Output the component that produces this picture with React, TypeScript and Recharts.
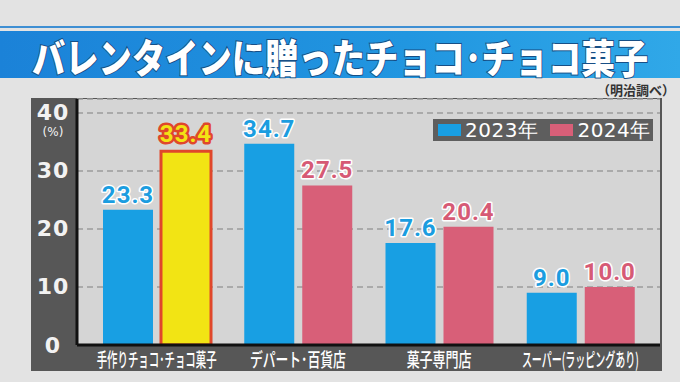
import { Bar, BarChart, CartesianGrid, Cell, LabelList, XAxis, YAxis } from "recharts"

const categories = ["手作りチョコ･チョコ菓子", "デパート･百貨店", "菓子専門店", "スーパー(ラッピングあり)"]
const share2023 = [23.3, 34.7, 17.6, 9.0]
const share2024 = [33.4, 27.5, 20.4, 10.0]
const yTicks = [0, 10, 20, 30, 40]
const seriesNames = ["2023年", "2024年"]
const highlightIndex = 0

const BLUE = "#189fe3"
const PINK = "#d85f78"
const YELLOW = "#f2e414"
const RED = "#e0472b"

// squeezed label widths, the broadcast font is very condensed
const tickWidths = [120, 96, 65, 117]

const chartData = categories.map((name, i) => ({
  name,
  y2023: share2023[i],
  y2024: share2024[i],
}))

function YTick(props: any) {
  const { x, y, payload } = props
  const cx = x - 16
  return (
    <g>
      <text x={cx} y={y} textAnchor="middle" dominantBaseline="central" fill="#f2f2f2" fontSize={22} fontWeight={700} fontFamily="DejaVu Sans" letterSpacing={1}>
        {payload.value}
      </text>
      {payload.value === 40 && (
        <text x={cx} y={y + 19} textAnchor="middle" dominantBaseline="central" fill="#f2f2f2" fontSize={12} fontFamily="DejaVu Sans">
          (%)
        </text>
      )}
    </g>
  )
}

function XTick(props: any) {
  const { x, y, payload, index } = props
  return (
    <text x={x} y={y + 5} textAnchor="middle" dominantBaseline="central" fill="#ffffff" fontSize={19} fontWeight={500} fontFamily="Noto Sans CJK JP" textLength={tickWidths[index]} lengthAdjust="spacingAndGlyphs">
      {payload.value}
    </text>
  )
}

function makeLabel(color: string, highlight: boolean) {
  return (props: any) => {
    const { x, y, width, value, index } = props
    const hot = highlight && index === highlightIndex
    return (
      <text
        x={x + width / 2}
        y={y - (hot ? 9 : 7)}
        textAnchor="middle"
        fill={hot ? YELLOW : color}
        stroke={hot ? RED : "#ffffff"}
        strokeWidth={hot ? 5 : 3}
        strokeLinejoin="round"
        paintOrder="stroke"
        fontSize={24}
        fontWeight={700}
        fontFamily="Roboto"
        letterSpacing={1}
      >
        {Number(value).toFixed(1)}
      </text>
    )
  }
}

function LegendBox() {
  const colors = [BLUE, PINK]
  return (
    <div style={{ position: "absolute", left: 433, top: 119, display: "flex", alignItems: "center", background: "#5e5e5e", height: 22, width: 220, padding: "0 5px", boxSizing: "border-box", whiteSpace: "nowrap" }}>
      {seriesNames.map((n, i) => (
        <div key={n} style={{ display: "flex", alignItems: "center", marginRight: i === 0 ? 12 : 0 }}>
          <div style={{ width: 23, height: 12, background: colors[i], marginRight: 4 }} />
          <span style={{ color: "#fff", fontFamily: "DejaVu Sans", fontSize: 20, letterSpacing: 0.5, lineHeight: "22px" }}>{n}</span>
        </div>
      ))}
    </div>
  )
}

export default function App() {
  return (
    <div style={{ position: "absolute", left: 0, top: 0, width: 680, height: 382, overflow: "hidden", background: "#e3e3e3" }}>
      {/* title band */}
      <div style={{ position: "absolute", left: 0, top: 26, width: 680, height: 2, background: "#3f8fd3" }} />
      <div style={{ position: "absolute", left: 0, top: 31, width: 680, height: 47, background: "linear-gradient(90deg, #1b82d8 0%, #2196e0 60%, #30a8e8 100%)" }} />
      <svg style={{ position: "absolute", left: 0, top: 0 }} width={680} height={100}>
        <text x={32} y={56} dominantBaseline="central" fill="#ffffff" stroke="#174f86" strokeWidth={2} paintOrder="stroke" fontSize={40} fontWeight={900} fontFamily="Noto Sans CJK JP" textLength={616} lengthAdjust="spacingAndGlyphs">
          バレンタインに贈ったチョコ･チョコ菓子
        </text>
        <text x={675} y={89} textAnchor="end" dominantBaseline="central" fill="#333" fontSize={13} fontWeight={700} fontFamily="Noto Sans CJK JP">
          （明治調べ）
        </text>
      </svg>
      {/* dark frame */}
      <div style={{ position: "absolute", left: 31, top: 98, width: 631, height: 273, background: "#575757" }} />
      <div style={{ position: "absolute", left: 0, top: 0 }}>
        <BarChart width={680} height={382} data={chartData} margin={{ top: 99, right: 20, bottom: 0, left: 31 }} barSize={50} barGap={8}>
          <CartesianGrid vertical={false} fill="#d5d5d5" stroke="#9c9c9c" strokeDasharray="6 4" strokeWidth={1.5} />
          <XAxis dataKey="name" height={37} tickLine={false} axisLine={{ stroke: "#111", strokeWidth: 3 }} tick={<XTick />} padding={{ left: 9, right: 9 }} interval={0} />
          <YAxis domain={[0, 42.4]} ticks={yTicks} width={46} tickLine={false} axisLine={{ stroke: "#111", strokeWidth: 3 }} tick={<YTick />} allowDataOverflow />
          <Bar dataKey="y2023" name={seriesNames[0]} fill={BLUE} isAnimationActive={false}>
            <LabelList dataKey="y2023" content={makeLabel("#1b9de0", false)} />
          </Bar>
          <Bar dataKey="y2024" name={seriesNames[1]} fill={PINK} isAnimationActive={false}>
            {chartData.map((_, i) => (
              <Cell key={i} fill={i === highlightIndex ? YELLOW : PINK} stroke={i === highlightIndex ? RED : "none"} strokeWidth={i === highlightIndex ? 3 : 0} />
            ))}
            <LabelList dataKey="y2024" content={makeLabel("#d65a75", true)} />
          </Bar>
        </BarChart>
      </div>
      <LegendBox />
    </div>
  )
}
